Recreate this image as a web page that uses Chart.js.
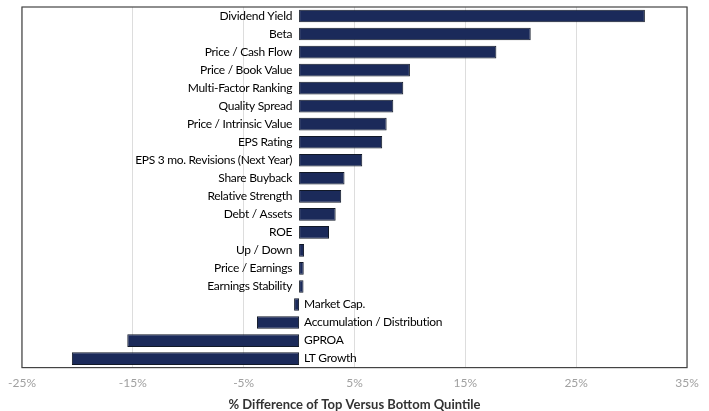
<!DOCTYPE html>
<html>
<head>
<meta charset="utf-8">
<script src="https://cdn.jsdelivr.net/npm/chart.js@4.4.1/dist/chart.umd.min.js"></script>
<style>
	html, body { margin: 0; padding: 0; background: #fff; }
	#wrap { width: 709px; height: 411px; }
</style>
</head>
<body>
<div id="wrap"><canvas id="chart"></canvas></div>
<script>
const factors = [
	"Dividend Yield", "Beta", "Price / Cash Flow", "Price / Book Value",
	"Multi-Factor Ranking", "Quality Spread", "Price / Intrinsic Value", "EPS Rating",
	"EPS 3 mo. Revisions (Next Year)", "Share Buyback", "Relative Strength", "Debt / Assets",
	"ROE", "Up / Down", "Price / Earnings", "Earnings Stability",
	"Market Cap.", "Accumulation / Distribution", "GPROA", "LT Growth",
];
const spread = [
	31.2, 20.9, 17.8, 10.0,
	9.4, 8.5, 7.9, 7.5,
	5.7, 4.1, 3.8, 3.3,
	2.7, 0.45, 0.42, 0.4,
	-0.45, -3.8, -15.5, -20.5,
];
const xTicks = [-25, -15, -5, 5, 15, 25, 35];

const barLabels = {
	id: "barLabels",
	afterDatasetsDraw(chart) {
		const { ctx } = chart;
		const meta = chart.getDatasetMeta(0);
		const zero = chart.scales.x.getPixelForValue(0);
		ctx.save();
		ctx.font = "12px Lato";
		ctx.letterSpacing = "-0.3px";
		ctx.fillStyle = "#000";
		ctx.textBaseline = "middle";
		meta.data.forEach((bar, i) => {
			if (spread[i] >= 0) {
				ctx.textAlign = "right";
				ctx.fillText(factors[i], zero - 7, bar.y);
			} else {
				ctx.textAlign = "left";
				ctx.fillText(factors[i], zero + 5, bar.y);
			}
		});
		ctx.restore();
	},
	afterDraw(chart) {
		const { ctx, chartArea: a } = chart;
		ctx.save();
		ctx.strokeStyle = "#444";
		ctx.lineWidth = 1.2;
		ctx.strokeRect(a.left, a.top, a.right - a.left, a.bottom - a.top);
		ctx.restore();
	},
};

new Chart(document.getElementById("chart"), {
	type: "bar",
	data: {
		labels: factors,
		datasets: [
			{
				data: spread,
				backgroundColor: "#1b2a5a",
				borderColor: "#111827",
				borderWidth: 1,
				borderSkipped: false,
				barPercentage: 0.9,
				categoryPercentage: 0.78,
			},
		],
	},
	options: {
		indexAxis: "y",
		responsive: true,
		maintainAspectRatio: false,
		animation: false,
		layout: { padding: { left: 17, right: 22, top: 7, bottom: 0 } },
		plugins: {
			legend: { display: false },
			tooltip: { enabled: false },
		},
		scales: {
			x: {
				min: -25,
				max: 35,
				afterBuildTicks: scale => {
					scale.ticks = xTicks.map(v => ({ value: v }));
				},
				grid: { color: "#dddddd", drawTicks: false },
				border: { display: false },
				ticks: {
					padding: 8,
					color: "#a0a0a0",
					font: { family: "Lato", size: 12 },
					callback: v => v + "%",
				},
				title: {
					display: true,
					text: "% Difference of Top Versus Bottom Quintile",
					color: "#333",
					font: { family: "Lato", size: 13, weight: "bold", lineHeight: 1 },
					padding: { top: 0, bottom: 0 },
				},
			},
			y: {
				display: false,
			},
		},
	},
	plugins: [barLabels],
});
</script>
</body>
</html>
